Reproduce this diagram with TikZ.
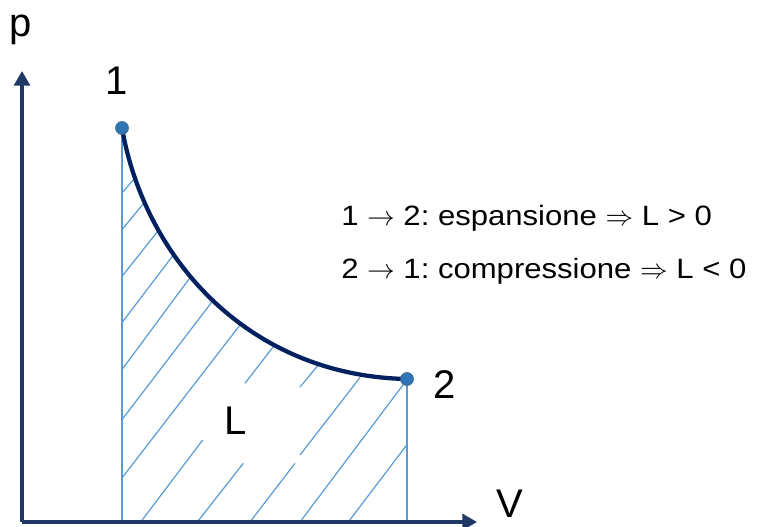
\documentclass[tikz,border=0pt]{standalone}
\usepackage{fontspec}
\setmainfont{Liberation Sans}
\newfontfamily\wideff[FakeStretch=1.11]{Liberation Sans}
\usetikzlibrary{arrows.meta}
\definecolor{axisc}{HTML}{203864}
\definecolor{curvec}{HTML}{002060}
\definecolor{hatchc}{HTML}{5B9BD5}
\definecolor{dotc}{HTML}{2E75B6}
\definecolor{dotedge}{HTML}{41719C}
\frenchspacing
\tikzset{
  axis/.style={draw=axisc, line width=2.3pt, -{Triangle[width=12pt,length=11pt]}},
  pv/.style={draw=curvec, line width=3.2pt},
  hatch/.style={draw=hatchc, line width=0.9pt},
  dot/.style={circle, fill=dotc, draw=dotedge, line width=0.6pt, minimum size=9.5pt, inner sep=0pt},
  biglab/.style={font=\fontsize{30}{36}\selectfont, anchor=base, inner sep=0pt},
  txt/.style={font=\wideff\fontsize{21}{25}\selectfont, anchor=base west, inner sep=0pt}
}
\begin{document}
\begin{tikzpicture}[x=0.75pt, y=-0.75pt]
\useasboundingbox (0,0) rectangle (763,527);
% hatching
\draw[hatch] (121.7,193.3) -- (136.7,176);
\draw[hatch] (121.7,230) -- (145,201.7);
\draw[hatch] (121.7,276.7) -- (159.3,229.3);
\draw[hatch] (121.7,323) -- (173.3,255);
\draw[hatch] (121.7,370) -- (190.7,276.7);
\draw[hatch] (121.7,420) -- (213,300.5);
\draw[hatch] (121.7,478.3) -- (240,325);
\draw[hatch] (140.7,522) -- (202.7,440);
\draw[hatch] (245,383.3) -- (273.3,346.7);
\draw[hatch] (197.3,522) -- (243.3,463.3);
\draw[hatch] (300,387) -- (318.3,365);
\draw[hatch] (250,522) -- (295,463.3);
\draw[hatch] (300,455) -- (360,377.5);
\draw[hatch] (300,522) -- (406.7,380);
\draw[hatch] (348.3,522) -- (406.7,445);
% coordinates
\coordinate (O) at (22,522);
\coordinate (ytip) at (22,71);
\coordinate (xtip) at (477,522);
\coordinate (f1) at (122,522);
\coordinate (f2) at (407,522);
% verticals
\draw[hatch] (122,128) -- (f1);
\draw[hatch] (407,379) -- (f2);
% axes
\draw[axis] (O) -- (ytip);
\draw[axis] (O) -- (xtip);
% curve
\node[dot] (p1) at (122,128) {};
\node[dot] (p2) at (407,379) {};
\draw[pv] (p1.center) .. controls (145,260) and (250,376) .. (p2.center);
\node[dot] at (p1.center) {};
\node[dot] at (p2.center) {};
% labels
\node[biglab] (lp) at (21,37) {p};
\node[biglab] (l1) at (117,95) {1};
\node[biglab] (l2) at (445,398) {2};
\node[biglab] (lV) at (510,517) {V};
\node[biglab] (lL) at (236,434) {L};
\node[txt] (t1) at (341,225) {1 $\rightarrow$ 2: espansione $\Rightarrow$ L > 0};
\node[txt] (t2) at (341,278) {2 $\rightarrow$ 1: compressione $\Rightarrow$ L < 0};
\end{tikzpicture}
\end{document}
